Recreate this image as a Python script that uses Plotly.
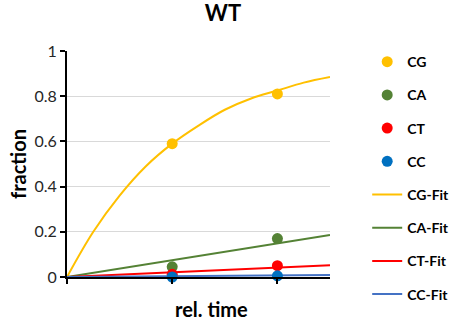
import plotly.graph_objects as go

# measured fractions at the two sampling times
time_pts = [1, 2]
cg_pts = [0.59, 0.81]
ca_pts = [0.045, 0.17]
ct_pts = [0.012, 0.05]
cc_pts = [0.0, 0.005]

# fitted curves
fit_t = [0, 0.25, 0.5, 0.75, 1.0, 1.25, 1.5, 1.75, 2.0, 2.25, 2.5]
cg_fit = [0, 0.20, 0.36, 0.49, 0.59, 0.67, 0.74, 0.79, 0.825, 0.86, 0.885]
lin_t = [0, 2.5]
ca_fit = [0, 0.186]
ct_fit = [0, 0.052]
cc_fit = [0, 0.009]

YELLOW = "#FFC000"
GREEN = "#548235"
RED = "#FF0000"
BLUE_PT = "#0070C0"
BLUE_LN = "#4472C4"

fig = go.Figure()

# fit lines first so the markers are drawn on top
fig.add_trace(go.Scatter(x=fit_t, y=cg_fit, mode="lines", name="CG-Fit",
                         legendgroup="CG-Fit", legendrank=5,
                         line=dict(color=YELLOW, width=2, shape="spline")))
for rank, (name, ys, col) in enumerate([("CA-Fit", ca_fit, GREEN),
                                        ("CT-Fit", ct_fit, RED),
                                        ("CC-Fit", cc_fit, BLUE_LN)], start=6):
    fig.add_trace(go.Scatter(x=lin_t, y=ys, mode="lines", name=name,
                             legendgroup=name, legendrank=rank,
                             line=dict(color=col, width=2)))

for rank, (name, ys, col) in enumerate([("CG", cg_pts, YELLOW), ("CA", ca_pts, GREEN),
                                        ("CT", ct_pts, RED), ("CC", cc_pts, BLUE_PT)],
                                       start=1):
    fig.add_trace(go.Scatter(x=time_pts, y=ys, mode="markers", name=name,
                             legendgroup=name, legendrank=rank,
                             marker=dict(color=col, size=11),
                             cliponaxis=False))

fig.update_layout(
    width=459, height=320,
    margin=dict(l=67, r=129, t=51, b=43),
    paper_bgcolor="white", plot_bgcolor="white",
    font=dict(family="Lato, Open Sans, sans-serif", color="#262626"),
    title=dict(text="<b>WT</b>", x=223 / 459, xanchor="center",
               y=1 - 13 / 320, yanchor="middle", font=dict(size=22, color="#000")),
    showlegend=True,
    legend=dict(xref="container", yref="container",
                x=0.80, xanchor="left", y=0.856, yanchor="top",
                traceorder="grouped", tracegroupgap=12, maxheight=310,
                font=dict(size=14, color="#000", weight=700),
                bgcolor="rgba(0,0,0,0)"),
    xaxis=dict(range=[0, 2.5], showgrid=False, zeroline=False, automargin=False,
               showline=True, linecolor="black", linewidth=2,
               tickvals=[0, 1, 2], ticks="outside", ticklen=5, tickwidth=2,
               tickcolor="black", showticklabels=False),
    yaxis=dict(range=[0, 1], tickvals=[0, 0.2, 0.4, 0.6, 0.8, 1],
               ticktext=["0", "0.2", "0.4", "0.6", "0.8", "1"], automargin=False,
               showgrid=True, gridcolor="#D9D9D9", gridwidth=1, zeroline=False,
               showline=True, linecolor="black", linewidth=2,
               ticks="outside", ticklen=5, tickwidth=2, tickcolor="black",
               tickfont=dict(size=16, color="#262626")),
    annotations=[
        dict(text="<b>rel. time</b>", xref="paper", yref="paper",
             x=(211 - 67) / 263, y=(277 - 309) / 226,
             xanchor="center", yanchor="middle", showarrow=False,
             font=dict(size=20, color="#000")),
        dict(text="<b>fraction</b>", xref="paper", yref="paper",
             x=(18 - 67) / 263, y=0.5, textangle=-90,
             xanchor="center", yanchor="middle", showarrow=False,
             font=dict(size=20, color="#000")),
    ],
)

fig.write_html("out.html")
